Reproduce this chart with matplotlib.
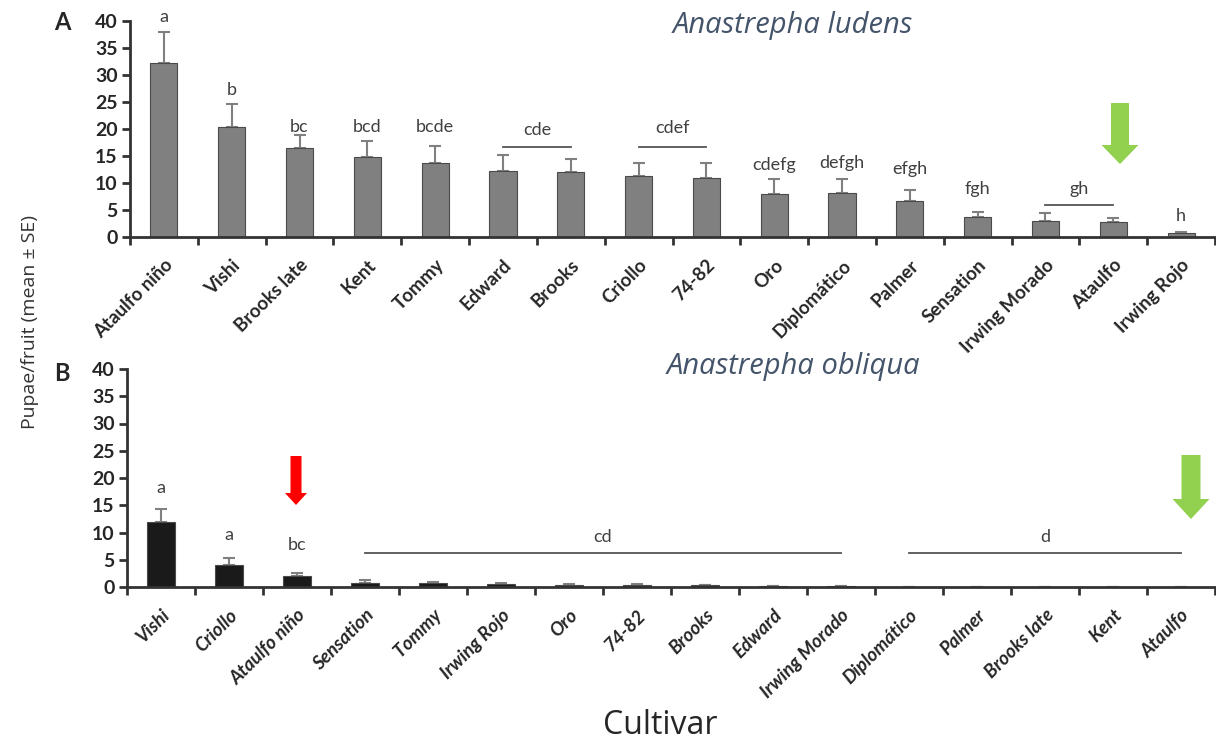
import matplotlib.pyplot as plt
from matplotlib.patches import FancyArrow
import numpy as np

plt.rcParams['font.family'] = ['Lato', 'DejaVu Sans']

# Panel A - Anastrepha ludens
cult_a = ["Ataulfo niño", "Vishi", "Brooks late", "Kent", "Tommy", "Edward", "Brooks",
          "Criollo", "74-82", "Oro", "Diplomático", "Palmer", "Sensation",
          "Irwing Morado", "Ataulfo", "Irwing Rojo"]
mean_a = [32.2, 20.4, 16.4, 14.8, 13.7, 12.3, 12.1, 11.3, 10.9, 8.0, 8.1, 6.7, 3.7, 3.0, 2.8, 0.8]
se_a = [5.7, 4.3, 2.5, 3.0, 3.2, 2.9, 2.3, 2.4, 2.8, 2.7, 2.6, 2.0, 0.9, 1.4, 0.8, 0.15]
lab_a = ["a", "b", "bc", "bcd", "bcde", "", "", "", "", "cdefg", "defgh", "efgh", "fgh", "", "", "h"]
lab_a_y = [40.7, 27.3, 20.3, 20.3, 20.3, 0, 0, 0, 0, 13.3, 13.7, 12.6, 8.9, 0, 0, 3.9]
# grouped letters: (first idx, last idx, text, line y, text y)
grp_a = [(5, 6, "cde", 16.6, 19.9), (7, 8, "cdef", 16.6, 20.2), (13, 14, "gh", 6.0, 8.8)]

# Panel B - Anastrepha obliqua
cult_b = ["Vishi", "Criollo", "Ataulfo niño", "Sensation", "Tommy", "Irwing Rojo", "Oro",
          "74-82", "Brooks", "Edward", "Irwing Morado", "Diplomático", "Palmer",
          "Brooks late", "Kent", "Ataulfo"]
mean_b = [11.9, 4.1, 2.0, 0.8, 0.7, 0.5, 0.45, 0.3, 0.3, 0.1, 0.15, 0, 0, 0, 0, 0]
se_b = [2.5, 1.2, 0.6, 0.4, 0.3, 0.2, 0.15, 0.2, 0.1, 0.05, 0.05, 0, 0, 0, 0, 0]
lab_b = ["a", "a", "bc"] + [""] * 13
lab_b_y = [18.2, 9.5, 7.7] + [0] * 13
grp_b = [(3, 10, "cd", 6.2, 9.2), (11, 15, "d", 6.2, 9.2)]

W, H = 1216, 742
fig = plt.figure(figsize=(W / 100, H / 100), dpi=100)

txt_col = "#404040"
axis_col = "#333333"


def panel(rect, cults, means, ses, labs, lab_y, groups, color, italic):
    ax = fig.add_axes(rect)
    x = np.arange(len(cults)) + 0.5
    ax.bar(x, means, width=0.4, color=color, edgecolor="#4a4a4a", linewidth=0.8, zorder=2)
    ax.errorbar(x, means, yerr=[np.zeros(len(ses)), ses], fmt="none", ecolor="#808080",
                elinewidth=1.5, capsize=4, capthick=1.5, zorder=1)
    for xi, t, ty in zip(x, labs, lab_y):
        if t:
            ax.text(xi, ty, t, ha="center", va="center", fontsize=13, color=txt_col)
    for i0, i1, t, ly, ty in groups:
        ax.plot([x[i0], x[i1]], [ly, ly], color="#555555", lw=1.3, clip_on=False)
        ax.text((x[i0] + x[i1]) / 2, ty, t, ha="center", va="center", fontsize=13, color=txt_col)
    ax.set_xlim(0, len(cults))
    ax.set_ylim(0, 40)
    ax.set_yticks(range(0, 41, 5))
    ax.set_xticks(range(0, len(cults) + 1))
    ax.set_xticklabels([])
    ax.set_xticks(x, minor=True)
    ax.set_xticklabels(cults, minor=True, rotation=45, ha="right", rotation_mode="anchor",
                       fontweight="bold", fontsize=13.5, color="#262626",
                       style="italic" if italic else "normal")
    ax.tick_params(axis="x", which="minor", length=0, pad=14)
    ax.tick_params(axis="x", which="major", length=6, width=2, color=axis_col, direction="out")
    ax.tick_params(axis="y", length=6, width=2, color=axis_col, labelsize=14, pad=3)
    for lbl in ax.get_yticklabels():
        lbl.set_fontweight("bold")
        lbl.set_color("#262626")
    for s in ["top", "right"]:
        ax.spines[s].set_visible(False)
    for s in ["left", "bottom"]:
        ax.spines[s].set_linewidth(2)
        ax.spines[s].set_color(axis_col)
    ax.patch.set_alpha(0)
    return ax


panel([130 / W, 1 - 237 / H, (W - 131) / W, 216 / H], cult_a, mean_a, se_a, lab_a, lab_a_y,
      grp_a, "#808080", False)
panel([127 / W, 1 - 587 / H, (W - 128) / W, 218 / H], cult_b, mean_b, se_b, lab_b, lab_b_y,
      grp_b, "#1a1a1a", True)

title_col = "#44546a"
fig.text(793 / W, 1 - 26 / H, "Anastrepha ludens", ha="center", va="center", fontsize=21,
         style="italic", color=title_col, family="Open Sans")
fig.text(793 / W, 1 - 366 / H, "Anastrepha obliqua", ha="center", va="center", fontsize=21,
         style="italic", color=title_col, family="Open Sans")
fig.text(62 / W, 1 - 22 / H, "A", ha="center", va="center", fontsize=17, fontweight="bold",
         color="#262626")
fig.text(62 / W, 1 - 373 / H, "B", ha="center", va="center", fontsize=17, fontweight="bold",
         color="#262626")
fig.text(30 / W, 1 - 322 / H, "Pupae/fruit (mean ± SE)", ha="center", va="center",
         rotation=90, fontsize=14, color="#333333", family="Open Sans")
fig.text(660 / W, 1 - 726 / H, "Cultivar", ha="center", va="center", fontsize=23,
         color="#262626", family="Open Sans")


def arrow(xc, ytop, ybot, shaft, head, head_len, col):
    fig.add_artist(FancyArrow(xc / W, 1 - ytop / H, 0, -(ybot - ytop) / H, width=shaft / W,
                              head_width=head / W, head_length=head_len / H,
                              length_includes_head=True, color=col, lw=0,
                              transform=fig.transFigure))


arrow(1120, 103, 164, 18, 37, 19, "#92d050")
arrow(296, 456, 505, 11, 22, 12, "#ff0000")
arrow(1191, 455, 519, 19, 37, 20, "#92d050")

fig.savefig("out.png", dpi=100)
